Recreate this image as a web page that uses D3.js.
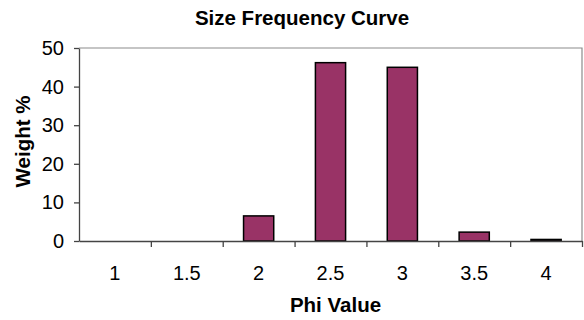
<!DOCTYPE html>
<html>
<head>
<meta charset="utf-8">
<script src="https://cdn.jsdelivr.net/npm/d3@7"></script>
<style>
  body { margin: 0; background: #fff; }
  svg { display: block; font-family: "Liberation Sans", Arial, sans-serif; }
</style>
</head>
<body>
<svg id="chart"></svg>
<script>
const phiValues = ['1', '1.5', '2', '2.5', '3', '3.5', '4'];
const weightPct = [0, 0, 6.5, 46.2, 45.0, 2.3, 0.4];
const yTicks = [0, 10, 20, 30, 40, 50];

const width = 584;
const height = 320;
const margin = { top: 48, right: 2, bottom: 79, left: 79 };

const svg = d3.select('#chart')
    .attr('width', width)
    .attr('height', height)
    .attr('viewBox', [0, 0, width, height]);

const x = d3.scaleBand()
    .domain(phiValues)
    .range([margin.left, width - margin.right])
    .paddingInner(0.58)
    .paddingOuter(0.29);

// boundaries between categories, for the tick marks
const xEdges = d3.scaleLinear()
    .domain([0, phiValues.length])
    .range([margin.left, width - margin.right]);

const y = d3.scaleLinear()
    .domain([0, 50])
    .range([height - margin.bottom, margin.top]);

// plot area frame (top + right)
svg.append('path')
    .attr('fill', 'none')
    .attr('stroke', '#8c8c8c')
    .attr('stroke-width', 1.2)
    .attr('d', `M${margin.left},${margin.top}H${width - margin.right}V${height - margin.bottom}`);

// bars
svg.append('g')
    .selectAll('rect')
    .data(phiValues.map((p, i) => ({ p, v: weightPct[i] })))
    .join('rect')
    .attr('x', d => x(d.p))
    .attr('y', d => y(d.v))
    .attr('width', x.bandwidth())
    .attr('height', d => y(0) - y(d.v))
    .attr('fill', '#993366')
    .attr('stroke', '#000')
    .attr('stroke-width', 1.5);

// y axis
svg.append('g')
    .attr('transform', `translate(${margin.left},0)`)
    .call(d3.axisLeft(y).tickValues(yTicks).tickSize(5).tickSizeOuter(0).tickPadding(10))
    .call(g => g.select('.domain').attr('stroke', '#444').attr('stroke-width', 1.3))
    .call(g => g.selectAll('.tick line').attr('stroke', '#444').attr('stroke-width', 1.3))
    .call(g => g.selectAll('.tick text')
        .attr('font-family', '"Liberation Sans", Arial, sans-serif')
        .attr('font-size', 20)
        .attr('fill', '#000'));

// x axis: tick marks between categories
svg.append('g')
    .attr('transform', `translate(0,${height - margin.bottom})`)
    .call(d3.axisBottom(xEdges).ticks(phiValues.length).tickSize(6).tickSizeOuter(0).tickFormat(''))
    .call(g => g.select('.domain').attr('stroke', '#444').attr('stroke-width', 1.3))
    .call(g => g.selectAll('.tick line').attr('stroke', '#444').attr('stroke-width', 1.3))
    .call(g => g.selectAll('.tick').filter(d => d === 0).remove());

// x axis labels
svg.append('g')
    .attr('transform', `translate(0,${height - margin.bottom})`)
    .call(d3.axisBottom(x).tickSize(0).tickPadding(25))
    .call(g => g.select('.domain').remove())
    .call(g => g.selectAll('.tick text')
        .attr('font-family', '"Liberation Sans", Arial, sans-serif')
        .attr('font-size', 20)
        .attr('fill', '#000'));

// title
svg.append('text')
    .attr('x', 302)
    .attr('y', 25)
    .attr('text-anchor', 'middle')
    .attr('font-size', 20.5)
    .attr('font-weight', 'bold')
    .text('Size Frequency Curve');

// axis titles
svg.append('text')
    .attr('x', (margin.left + width - margin.right) / 2 + 5)
    .attr('y', 312)
    .attr('text-anchor', 'middle')
    .attr('font-size', 20.5)
    .attr('font-weight', 'bold')
    .text('Phi Value');

svg.append('text')
    .attr('transform', `translate(30,${(margin.top + height - margin.bottom) / 2 - 3}) rotate(-90)`)
    .attr('text-anchor', 'middle')
    .attr('font-size', 20.5)
    .attr('font-weight', 'bold')
    .text('Weight %');
</script>
</body>
</html>
